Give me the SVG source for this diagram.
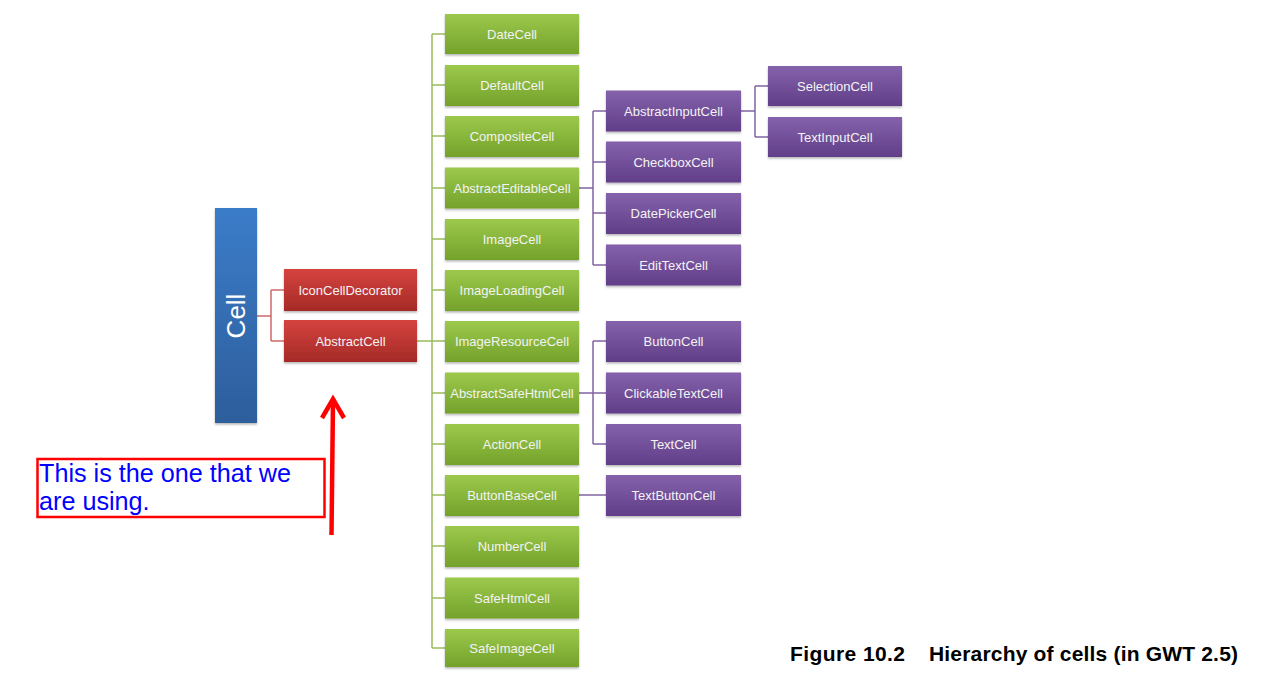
<svg xmlns="http://www.w3.org/2000/svg" width="1271" height="697" viewBox="0 0 1271 697">
<defs>
<linearGradient id="gGreen" x1="0" y1="0" x2="0" y2="1"><stop offset="0" stop-color="#9cc94c"/><stop offset="1" stop-color="#74a22b"/></linearGradient>
<linearGradient id="gPurple" x1="0" y1="0" x2="0" y2="1"><stop offset="0" stop-color="#8562ac"/><stop offset="1" stop-color="#613e88"/></linearGradient>
<linearGradient id="gRed" x1="0" y1="0" x2="0" y2="1"><stop offset="0" stop-color="#d5433f"/><stop offset="1" stop-color="#a52a27"/></linearGradient>
<linearGradient id="gBlue" x1="0" y1="0" x2="0" y2="1"><stop offset="0" stop-color="#3b7cc9"/><stop offset="1" stop-color="#2d5e9c"/></linearGradient>
<filter id="sh" x="-10%" y="-10%" width="130%" height="140%"><feDropShadow dx="0" dy="1.5" stdDeviation="1.2" flood-color="#000" flood-opacity="0.3"/></filter>
</defs>
<style>
.g{fill:url(#gGreen);filter:url(#sh)}
.p{fill:url(#gPurple);filter:url(#sh)}
.r{fill:url(#gRed);filter:url(#sh)}
.t{font-family:"Liberation Sans",Arial,sans-serif;font-size:13px;fill:#f3f3f3;text-anchor:middle}
.cg{stroke:#9bbb59;stroke-width:1.5;fill:none}
.cp{stroke:#8064a2;stroke-width:1.5;fill:none}
.cr{stroke:#d06a68;stroke-width:1.5;fill:none}
</style>
<rect width="1271" height="697" fill="#ffffff"/>
<g id="connectors">
<path class="cr" d="M257 316H271M271 290V341M271 290H284M271 341H284"/>
<path class="cg" d="M417 341H432M432 34V648M432 34H445M432 85H445M432 136H445M432 188H445M432 239H445M432 290H445M432 341H445M432 393H445M432 444H445M432 495H445M432 546H445M432 598H445M432 648H445"/>
<path class="cp" d="M579 188H593M593 111V265M593 111H606M593 162H606M593 213H606M593 265H606"/>
<path class="cp" d="M741 111H755M755 86V137M755 86H768M755 137H768"/>
<path class="cp" d="M579 393H593M593 341V444M593 341H606M593 393H606M593 444H606"/>
<path class="cp" d="M579 495H606"/>
</g>
<g id="cell"><rect x="215" y="208" width="42" height="215" fill="url(#gBlue)" filter="url(#sh)"/><text transform="translate(245,316) rotate(-90)" text-anchor="middle" font-family="Liberation Sans,Arial,sans-serif" font-size="26" fill="#ffffff">Cell</text></g>
<g id="iconCellDecorator"><rect class="r" x="284" y="269" width="133" height="42"/><text class="t" x="350.5" y="294.5">IconCellDecorator</text></g>
<g id="abstractCell"><rect class="r" x="284" y="320" width="133" height="42"/><text class="t" x="350.5" y="345.5">AbstractCell</text></g>
<g id="dateCell"><rect class="g" x="445" y="14" width="134" height="40"/><text class="t" x="512" y="38.5">DateCell</text></g>
<g id="defaultCell"><rect class="g" x="445" y="65" width="134" height="41"/><text class="t" x="512" y="90">DefaultCell</text></g>
<g id="compositeCell"><rect class="g" x="445" y="116" width="134" height="41"/><text class="t" x="512" y="141">CompositeCell</text></g>
<g id="abstractEditableCell"><rect class="g" x="445" y="167.5" width="134" height="41"/><text class="t" x="512" y="192.5">AbstractEditableCell</text></g>
<g id="imageCell"><rect class="g" x="445" y="219" width="134" height="41"/><text class="t" x="512" y="244">ImageCell</text></g>
<g id="imageLoadingCell"><rect class="g" x="445" y="270" width="134" height="41"/><text class="t" x="512" y="295">ImageLoadingCell</text></g>
<g id="imageResourceCell"><rect class="g" x="445" y="321" width="134" height="41"/><text class="t" x="512" y="346">ImageResourceCell</text></g>
<g id="abstractSafeHtmlCell"><rect class="g" x="445" y="372.5" width="134" height="41"/><text class="t" x="512" y="397.5">AbstractSafeHtmlCell</text></g>
<g id="actionCell"><rect class="g" x="445" y="424" width="134" height="41"/><text class="t" x="512" y="449">ActionCell</text></g>
<g id="buttonBaseCell"><rect class="g" x="445" y="475" width="134" height="41"/><text class="t" x="512" y="500">ButtonBaseCell</text></g>
<g id="numberCell"><rect class="g" x="445" y="526" width="134" height="41"/><text class="t" x="512" y="551">NumberCell</text></g>
<g id="safeHtmlCell"><rect class="g" x="445" y="577.5" width="134" height="41"/><text class="t" x="512" y="602.5">SafeHtmlCell</text></g>
<g id="safeImageCell"><rect class="g" x="445" y="629" width="134" height="38"/><text class="t" x="512" y="653">SafeImageCell</text></g>
<g id="abstractInputCell"><rect class="p" x="606" y="90.5" width="135" height="41"/><text class="t" x="673.5" y="115.5">AbstractInputCell</text></g>
<g id="checkboxCell"><rect class="p" x="606" y="141.5" width="135" height="41"/><text class="t" x="673.5" y="166.5">CheckboxCell</text></g>
<g id="datePickerCell"><rect class="p" x="606" y="193" width="135" height="41"/><text class="t" x="673.5" y="218">DatePickerCell</text></g>
<g id="editTextCell"><rect class="p" x="606" y="244.5" width="135" height="41"/><text class="t" x="673.5" y="269.5">EditTextCell</text></g>
<g id="selectionCell"><rect class="p" x="768" y="66" width="134" height="40"/><text class="t" x="835" y="90.5">SelectionCell</text></g>
<g id="textInputCell"><rect class="p" x="768" y="117" width="134" height="40"/><text class="t" x="835" y="141.5">TextInputCell</text></g>
<g id="buttonCell"><rect class="p" x="606" y="321" width="135" height="41"/><text class="t" x="673.5" y="346">ButtonCell</text></g>
<g id="clickableTextCell"><rect class="p" x="606" y="372.5" width="135" height="41"/><text class="t" x="673.5" y="397.5">ClickableTextCell</text></g>
<g id="textCell"><rect class="p" x="606" y="424" width="135" height="41"/><text class="t" x="673.5" y="449">TextCell</text></g>
<g id="textButtonCell"><rect class="p" x="606" y="475" width="135" height="41"/><text class="t" x="673.5" y="500">TextButtonCell</text></g>
<g id="annotation">
<rect x="37.5" y="459" width="287" height="58" fill="none" stroke="#ff0000" stroke-width="2.5"/>
<text font-family="Liberation Sans,Arial,sans-serif" font-size="25.2" fill="#0000ff"><tspan x="39" y="482">This is the one that we</tspan><tspan x="39" y="510">are using.</tspan></text>
</g>
<g id="arrow" stroke="#ff0000" stroke-width="4.5" fill="none">
<path d="M331.5 535L333 400"/>
<path d="M322 418L333 399L344 418" stroke-linejoin="miter"/>
</g>
<g id="caption" font-family="Liberation Sans,Arial,sans-serif" font-weight="bold" font-size="21" fill="#000">
<text x="790" y="661" textLength="115">Figure 10.2</text>
<text x="929" y="661" textLength="309">Hierarchy of cells (in GWT 2.5)</text>
</g>
</svg>
